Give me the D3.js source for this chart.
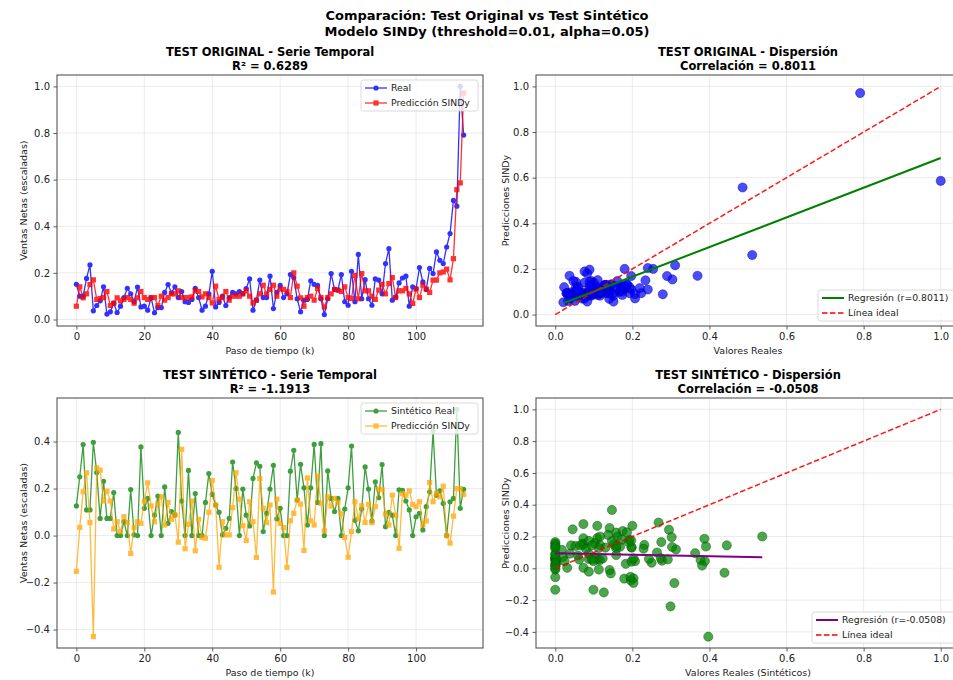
<!DOCTYPE html>
<html>
<head>
<meta charset="utf-8">
<script src="https://cdn.jsdelivr.net/npm/d3@7"></script>
<style>
body { margin: 0; background: #fff; }
svg { display: block; font-family: "DejaVu Sans", sans-serif; }
</style>
</head>
<body>
<svg id="chart" width="953" height="680"></svg>
<script>
// --- datos ---
let steps = d3.range(115);

let realOrig = [0.151,0.10,0.10,0.176,0.234,0.037,0.06,0.08,0.14,0.023,0.033,0.07,0.03,0.057,0.094,0.134,0.11,0.076,0.139,0.054,
  0.057,0.04,0.093,0.029,0.051,0.051,0.116,0.15,0.114,0.14,0.094,0.12,0.076,0.073,0.086,0.134,0.094,0.04,0.057,0.11,
  0.207,0.054,0.073,0.1,0.06,0.094,0.116,0.11,0.12,0.11,0.133,0.174,0.04,0.083,0.169,0.094,0.094,0.186,0.047,0.116,
  0.146,0.094,0.11,0.193,0.18,0.089,0.033,0.083,0.086,0.166,0.151,0.146,0.089,0.021,0.089,0.197,0.129,0.126,0.193,0.076,
  0.061,0.207,0.076,0.279,0.089,0.171,0.089,0.061,0.174,0.169,0.11,0.24,0.304,0.083,0.097,0.157,0.178,0.186,0.057,0.14,
  0.133,0.223,0.161,0.129,0.219,0.197,0.29,0.254,0.24,0.311,0.369,0.511,0.486,1.0,0.791];

let predOrig = [0.057,0.14,0.093,0.11,0.15,0.17,0.086,0.09,0.094,0.12,0.06,0.07,0.093,0.08,0.086,0.094,0.086,0.07,0.093,0.12,
  0.094,0.086,0.094,0.094,0.06,0.10,0.083,0.094,0.11,0.11,0.123,0.094,0.094,0.094,0.097,0.123,0.12,0.097,0.11,0.094,
  0.071,0.143,0.086,0.094,0.12,0.083,0.10,0.10,0.10,0.11,0.123,0.10,0.071,0.083,0.11,0.147,0.11,0.129,0.147,0.10,
  0.131,0.129,0.12,0.094,0.2,0.143,0.093,0.057,0.094,0.10,0.083,0.133,0.094,0.054,0.094,0.11,0.129,0.126,0.12,0.14,
  0.094,0.09,0.189,0.089,0.197,0.123,0.123,0.10,0.086,0.126,0.151,0.11,0.154,0.18,0.094,0.123,0.123,0.133,0.11,0.069,
  0.13,0.094,0.147,0.13,0.116,0.169,0.169,0.2,0.204,0.216,0.17,0.261,0.557,0.586,0.971];

let realSint = [0.126,0.25,0.387,0.109,0.109,0.397,0.268,0.073,0.231,0.073,0.073,0.183,0.0,0.0,0.059,0.0,0.196,0.003,0.0,0.377,
  0.116,0.158,0.0,0.087,0.168,0.0,0.207,0.052,0.102,0.087,0.439,0.147,0.0,0.277,0.0,0.179,0.0,0.0,0.141,0.264,
  0.175,0.13,0.099,0.003,0.031,0.073,0.313,0.2,0.0,0.198,0.087,0.041,0.243,0.309,0.295,0.017,0.095,0.198,0.299,0.071,
  0.116,0.0,0.0,0.274,0.363,0.151,0.303,0.203,0.045,0.203,0.388,0.141,0.391,0.0,0.275,0.158,0.102,0.158,0.0,0.113,
  0.203,0.381,0.065,0.02,0.113,0.292,0.198,0.062,0.229,0.161,0.302,0.038,0.099,0.087,0.0,0.195,0.192,0.147,0.109,0.0,
  0.08,0.095,0.024,0.123,0.186,0.445,0.172,0.19,0.137,0.0,0.144,0.158,0.537,0.116,0.197];

let predSint = [-0.152,0.035,0.186,0.267,0.055,-0.43,0.288,0.278,0.147,0.189,0.147,0.028,0.059,0.017,0.08,0.056,-0.076,0.034,0.059,0.052,
  0.147,0.224,0.126,0.059,0.135,0.165,0.045,0.141,0.069,0.09,-0.028,0.367,-0.056,0.048,0.147,-0.065,0.069,-0.008,-0.011,0.099,
  0.234,0.13,-0.135,0.059,0.003,0.003,0.119,0.267,0.155,0.042,-0.021,0.144,0.059,-0.093,0.243,0.116,0.055,0.13,-0.24,0.155,
  0.052,0.034,-0.135,0.063,0.095,0.151,0.134,-0.063,0.245,0.063,0.045,0.253,0.137,0.02,0.165,0.126,0.158,0.141,0.092,-0.008,
  -0.092,0.017,0.144,0.071,0.127,0.056,0.133,0.055,0.123,0.198,0.196,0.092,0.045,0.172,0.087,-0.054,0.179,0.172,0.19,0.133,
  0.123,0.144,0.045,0.062,0.226,0.144,0.18,0.165,0.21,0.0,-0.032,0.083,0.2,0.2,0.175];

// linea ideal y regresiones (pendiente, intercepto)
let idealLine = [0, 1];
let regOrig = [0.65, 0.036];
let regSint = [-0.047, 0.094];

let stepTicks = [0, 20, 40, 60, 80, 100];
let unitTicks = [0, 0.2, 0.4, 0.6, 0.8, 1.0];
let sintTicks = [-0.4, -0.2, 0, 0.2, 0.4];
let sintScatterTicks = [-0.4, -0.2, 0, 0.2, 0.4, 0.6, 0.8, 1.0];

let svg = d3.select("#chart");
let fmt1 = function(d) { return d3.format(".1f")(d).replace("-", "\u2212"); };
let fmt0 = d3.format("d");

// margen tipo matplotlib (5%)
function pad(ext) {
  let m = (ext[1] - ext[0]) * 0.05;
  return [ext[0] - m, ext[1] + m];
}

function makeAxes(box, xDom, yDom, xTicks, yTicks, xFmt) {
  let g = svg.append("g");
  let x = d3.scaleLinear().domain(xDom).range([box.left, box.right]);
  let y = d3.scaleLinear().domain(yDom).range([box.bottom, box.top]);

  // grid
  g.append("g").selectAll("line").data(xTicks).enter().append("line")
    .attr("x1", d => x(d)).attr("x2", d => x(d))
    .attr("y1", box.top).attr("y2", box.bottom)
    .attr("stroke", "#b0b0b0").attr("stroke-opacity", 0.3).attr("stroke-width", 0.8);
  g.append("g").selectAll("line").data(yTicks).enter().append("line")
    .attr("y1", d => y(d)).attr("y2", d => y(d))
    .attr("x1", box.left).attr("x2", box.right)
    .attr("stroke", "#b0b0b0").attr("stroke-opacity", 0.3).attr("stroke-width", 0.8);

  let xa = g.append("g").attr("transform", "translate(0," + box.bottom + ")")
    .call(d3.axisBottom(x).tickValues(xTicks).tickFormat(xFmt).tickSize(3.5).tickPadding(3.5));
  let ya = g.append("g").attr("transform", "translate(" + box.left + ",0)")
    .call(d3.axisLeft(y).tickValues(yTicks).tickFormat(fmt1).tickSize(3.5).tickPadding(3.5));
  [xa, ya].forEach(function(a) {
    a.select(".domain").remove();
    a.selectAll("text").attr("font-size", 10).attr("fill", "#222").attr("font-family", "DejaVu Sans");
    a.selectAll("line").attr("stroke", "#333").attr("stroke-width", 0.8);
  });

  let clipId = "clip" + Math.round(box.left) + "_" + Math.round(box.top);
  svg.append("clipPath").attr("id", clipId).append("rect")
    .attr("x", box.left).attr("y", box.top)
    .attr("width", box.right - box.left).attr("height", box.bottom - box.top);
  let plot = svg.append("g").attr("clip-path", "url(#" + clipId + ")");

  return { x: x, y: y, plot: plot, box: box };
}

function frame(ax) {
  let b = ax.box;
  svg.append("rect").attr("x", b.left).attr("y", b.top)
    .attr("width", b.right - b.left).attr("height", b.bottom - b.top)
    .attr("fill", "none").attr("stroke", "#555").attr("stroke-width", 1.1);
}

function titles(ax, l1, l2) {
  let cx = (ax.box.left + ax.box.right) / 2;
  svg.append("text").attr("x", cx).attr("y", ax.box.top - 19).attr("text-anchor", "middle")
    .attr("font-size", 11.5).attr("font-weight", "bold").text(l1);
  svg.append("text").attr("x", cx).attr("y", ax.box.top - 5).attr("text-anchor", "middle")
    .attr("font-size", 11.5).attr("font-weight", "bold").text(l2);
}

function labels(ax, xl, yl, ylX) {
  let b = ax.box;
  svg.append("text").attr("x", (b.left + b.right) / 2).attr("y", b.bottom + 28)
    .attr("text-anchor", "middle").attr("font-size", 9.5).attr("fill", "#222").text(xl);
  svg.append("text").attr("transform", "translate(" + ylX + "," + ((b.top + b.bottom) / 2) + ") rotate(-90)")
    .attr("text-anchor", "middle").attr("font-size", 9.5).attr("fill", "#222").text(yl);
}

function series(ax, xs, ys, color, shape, opacity) {
  let line = d3.line().x((d, i) => ax.x(xs[i])).y(d => ax.y(d));
  let g = ax.plot.append("g").attr("opacity", opacity);
  g.append("path").datum(ys).attr("d", line)
    .attr("fill", "none").attr("stroke", color).attr("stroke-width", 1.3);
  if (shape === "circle") {
    g.selectAll("circle").data(ys).enter().append("circle")
      .attr("cx", (d, i) => ax.x(xs[i])).attr("cy", d => ax.y(d))
      .attr("r", 2.6).attr("fill", color);
  } else {
    g.selectAll("rect").data(ys).enter().append("rect")
      .attr("x", (d, i) => ax.x(xs[i]) - 2.6).attr("y", d => ax.y(d) - 2.6)
      .attr("width", 5.2).attr("height", 5.2).attr("fill", color);
  }
}

function scatter(ax, xs, ys, color, edge) {
  ax.plot.append("g").selectAll("circle").data(xs).enter().append("circle")
    .attr("cx", d => ax.x(d)).attr("cy", (d, i) => ax.y(ys[i]))
    .attr("r", 4.6).attr("fill", color).attr("fill-opacity", 0.7)
    .attr("stroke", edge).attr("stroke-opacity", 0.7).attr("stroke-width", 0.6);
}

function fitLine(ax, xs, coef, color) {
  let ext = d3.extent(xs);
  ax.plot.append("line")
    .attr("x1", ax.x(ext[0])).attr("y1", ax.y(coef[1] + coef[0] * ext[0]))
    .attr("x2", ax.x(ext[1])).attr("y2", ax.y(coef[1] + coef[0] * ext[1]))
    .attr("stroke", color).attr("stroke-width", 2);
  ax.plot.append("line")
    .attr("x1", ax.x(idealLine[0])).attr("y1", ax.y(idealLine[0]))
    .attr("x2", ax.x(idealLine[1])).attr("y2", ax.y(idealLine[1]))
    .attr("stroke", "red").attr("stroke-width", 1.5).attr("stroke-dasharray", "5.5,2.5").attr("opacity", 0.9);
}

function legend(x0, y0, w, items) {
  let g = svg.append("g").attr("transform", "translate(" + x0 + "," + y0 + ")");
  g.append("rect").attr("width", w).attr("height", 31).attr("rx", 2.5)
    .attr("fill", "#fff").attr("fill-opacity", 0.8).attr("stroke", "#d0d0d0").attr("stroke-width", 0.8);
  items.forEach(function(it, k) {
    let yy = 8 + k * 15;
    let row = g.append("g").attr("opacity", it.opacity || 1);
    row.append("line").attr("x1", 4).attr("x2", 26).attr("y1", yy).attr("y2", yy)
      .attr("stroke", it.color).attr("stroke-width", it.width || 1.3)
      .attr("stroke-dasharray", it.dash || null);
    if (it.shape === "circle") {
      row.append("circle").attr("cx", 15).attr("cy", yy).attr("r", 2.6).attr("fill", it.color);
    } else if (it.shape === "square") {
      row.append("rect").attr("x", 12.4).attr("y", yy - 2.6).attr("width", 5.2).attr("height", 5.2).attr("fill", it.color);
    }
    g.append("text").attr("x", 30).attr("y", yy + 3.4).attr("font-size", 9.3).attr("fill", "#222").text(it.label);
  });
}

// titulo general
svg.append("text").attr("x", 487).attr("y", 20).attr("text-anchor", "middle")
  .attr("font-size", 13).attr("font-weight", "bold").text("Comparación: Test Original vs Test Sintético");
svg.append("text").attr("x", 487).attr("y", 36).attr("text-anchor", "middle")
  .attr("font-size", 13).attr("font-weight", "bold").text("Modelo SINDy (threshold=0.01, alpha=0.05)");

// --- TEST ORIGINAL serie temporal ---
let tl = makeAxes({ left: 57, right: 483, top: 75, bottom: 326 },
  pad(d3.extent(steps)), pad(d3.extent(realOrig.concat(predOrig))), stepTicks, unitTicks, fmt0);
series(tl, steps, realOrig, "#0000ff", "circle", 0.8);
series(tl, steps, predOrig, "#ff0000", "square", 0.8);
frame(tl);
titles(tl, "TEST ORIGINAL - Serie Temporal", "R² = 0.6289");
labels(tl, "Paso de tiempo (k)", "Ventas Netas (escaladas)", 27);
legend(361, 80, 117, [
  { label: "Real", color: "#0000ff", shape: "circle", opacity: 0.8 },
  { label: "Predicción SINDy", color: "#ff0000", shape: "square", opacity: 0.8 }
]);

// --- TEST ORIGINAL dispersion ---
let tr = makeAxes({ left: 536, right: 960, top: 75, bottom: 326 },
  pad(d3.extent(realOrig.concat(idealLine))), pad(d3.extent(predOrig.concat(idealLine))), unitTicks, unitTicks, fmt1);
scatter(tr, realOrig, predOrig, "#0000ff", "#00008b");
fitLine(tr, realOrig, regOrig, "#008000");
frame(tr);
titles(tr, "TEST ORIGINAL - Dispersión", "Correlación = 0.8011");
labels(tr, "Valores Reales", "Predicciones SINDy", 509);
legend(818, 290, 150, [
  { label: "Regresión (r=0.8011)", color: "#008000", width: 2 },
  { label: "Línea ideal", color: "red", width: 1.5, dash: "5.5,2.5" }
]);

// --- TEST SINTETICO serie temporal ---
let bl = makeAxes({ left: 57, right: 483, top: 398, bottom: 648 },
  pad(d3.extent(steps)), pad(d3.extent(realSint.concat(predSint))), stepTicks, sintTicks, fmt0);
series(bl, steps, realSint, "#008000", "circle", 0.75);
series(bl, steps, predSint, "#ffa500", "square", 0.75);
frame(bl);
titles(bl, "TEST SINTÉTICO - Serie Temporal", "R² = -1.1913");
labels(bl, "Paso de tiempo (k)", "Ventas Netas (escaladas)", 27);
legend(361, 403, 117, [
  { label: "Sintético Real", color: "#008000", shape: "circle", opacity: 0.75 },
  { label: "Predicción SINDy", color: "#ffa500", shape: "square", opacity: 0.75 }
]);

// --- TEST SINTETICO dispersion ---
let br = makeAxes({ left: 536, right: 960, top: 398, bottom: 648 },
  pad(d3.extent(realSint.concat(idealLine))), pad(d3.extent(predSint.concat(idealLine))), unitTicks, sintScatterTicks, fmt1);
scatter(br, realSint, predSint, "#008000", "#005000");
fitLine(br, realSint, regSint, "#800080");
frame(br);
titles(br, "TEST SINTÉTICO - Dispersión", "Correlación = -0.0508");
labels(br, "Valores Reales (Sintéticos)", "Predicciones SINDy", 509);
legend(812, 612, 150, [
  { label: "Regresión (r=-0.0508)", color: "#800080", width: 2 },
  { label: "Línea ideal", color: "red", width: 1.5, dash: "5.5,2.5" }
]);
</script>
</body>
</html>
